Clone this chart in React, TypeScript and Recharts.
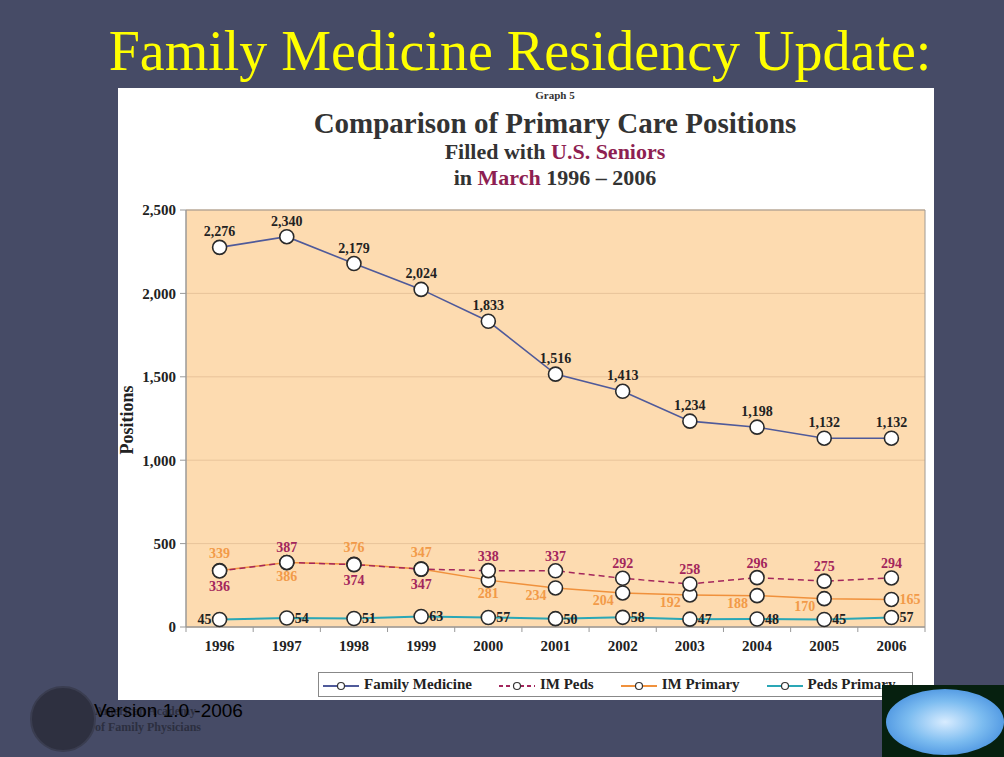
import React from 'react';
import { LineChart, Line, XAxis, YAxis, CartesianGrid, LabelList, ReferenceArea } from 'recharts';

const years = [1996, 1997, 1998, 1999, 2000, 2001, 2002, 2003, 2004, 2005, 2006];
const familyMedicine = [2276, 2340, 2179, 2024, 1833, 1516, 1413, 1234, 1198, 1132, 1132];
const imPeds = [336, 387, 374, 347, 338, 337, 292, 258, 296, 275, 294];
const imPrimary = [339, 386, 376, 347, 281, 234, 204, 192, 188, 170, 165];
const pedsPrimary = [45, 54, 51, 63, 57, 50, 58, 47, 48, 45, 57];
const yTicks = [0, 500, 1000, 1500, 2000, 2500];
const seriesNames = ['Family Medicine', 'IM Peds', 'IM Primary', 'Peds Primary'];

const C_FM = '#4f5a9a';
const C_IMPEDS = '#a3265c';
const C_IMPRIM = '#f0913c';
const C_PEDS = '#2aa7b6';
const LABEL_ORANGE = '#f29a48';

const data = years.map((y, i) => ({
  year: y,
  fm: familyMedicine[i],
  imPeds: imPeds[i],
  imPrimary: imPrimary[i],
  peds: pedsPrimary[i],
}));

const xTicks: number[] = [];
years.forEach((y) => {
  xTicks.push(y - 0.5);
  xTicks.push(y);
});
xTicks.push(years[years.length - 1] + 0.5);

const SERIF = '"Liberation Serif", "Times New Roman", serif';
const fmt = (v: number) => v.toLocaleString('en-US');

const dotStyle = { r: 7, fill: '#ffffff', stroke: '#2a2a2a', strokeWidth: 1.6, strokeDasharray: 'none' };

const lblBase = { fontFamily: SERIF, fontWeight: 700, fontSize: 14 } as const;

const FmLabel = (p: any) => (
  <text x={p.x} y={p.y - 11} textAnchor="middle" fill="#222" style={lblBase}>
    {fmt(p.value)}
  </text>
);

const ImPedsLabel = (p: any) => {
  const i = p.index;
  const above = imPeds[i] > imPrimary[i];
  return (
    <text x={p.x} y={above ? p.y - 10 : p.y + 20} textAnchor="middle" fill={C_IMPEDS} style={lblBase}>
      {p.value}
    </text>
  );
};

const ImPrimLabel = (p: any) => {
  const i = p.index;
  const above = imPrimary[i] >= imPeds[i];
  if (above) {
    return (
      <text x={p.x} y={p.y - 12} textAnchor="middle" fill={LABEL_ORANGE} style={lblBase}>
        {p.value}
      </text>
    );
  }
  if (i === years.length - 1) {
    return (
      <text x={p.x + 8} y={p.y + 5} textAnchor="start" fill={LABEL_ORANGE} style={lblBase}>
        {p.value}
      </text>
    );
  }
  if (i >= 5) {
    return (
      <text x={p.x - 9} y={p.y + 12} textAnchor="end" fill={LABEL_ORANGE} style={lblBase}>
        {p.value}
      </text>
    );
  }
  return (
    <text x={p.x} y={p.y + 18} textAnchor="middle" fill={LABEL_ORANGE} style={lblBase}>
      {p.value}
    </text>
  );
};

const PedsLabel = (p: any) => {
  const left = p.index === 0;
  return (
    <text x={left ? p.x - 8 : p.x + 8} y={p.y + 5} textAnchor={left ? 'end' : 'start'} fill="#222" style={lblBase}>
      {p.value}
    </text>
  );
};

const XTick = (p: any) => {
  const v = p.payload.value;
  if (Number.isInteger(v)) {
    return (
      <text x={p.x} y={p.y + 24} textAnchor="middle" fill="#222" style={{ fontFamily: SERIF, fontWeight: 700, fontSize: 15 }}>
        {v}
      </text>
    );
  }
  return <line x1={p.x} x2={p.x} y1={p.y} y2={p.y + 5} stroke="#999" strokeWidth={1} />;
};

const LegendIcon = ({ color, dashed }: { color: string; dashed?: boolean }) => (
  <svg width={36} height={12} style={{ verticalAlign: 'middle', marginRight: 5 }}>
    <line x1={0} x2={36} y1={6} y2={6} stroke={color} strokeWidth={2} strokeDasharray={dashed ? '4 3' : undefined} />
    <circle cx={18} cy={6} r={3.5} fill="#fff" stroke="#333" strokeWidth={1.2} />
  </svg>
);

export default function App() {
  const legendColors = [C_FM, C_IMPEDS, C_IMPRIM, C_PEDS];
  return (
    <div style={{ position: 'absolute', left: 0, top: 0, width: 1004, height: 757, background: '#464b66', overflow: 'hidden' }}>
      <div
        style={{
          position: 'absolute', left: 0, top: 19, width: 1040, textAlign: 'center',
          fontFamily: SERIF, fontSize: 56, color: '#ffff00', lineHeight: '64px', whiteSpace: 'nowrap',
        }}
      >
        Family Medicine Residency Update:
      </div>

      <div style={{ position: 'absolute', left: 118, top: 88, width: 816, height: 612, background: '#ffffff' }}>
        <div style={{ position: 'absolute', left: 0, top: 1, width: 874, textAlign: 'center', fontFamily: SERIF, fontWeight: 700, fontSize: 11, color: '#333' }}>
          Graph 5
        </div>
        <div style={{ position: 'absolute', left: 0, top: 18, width: 874, textAlign: 'center', fontFamily: SERIF, fontWeight: 700, fontSize: 29, color: '#333', lineHeight: '34px' }}>
          Comparison of Primary Care Positions
        </div>
        <div style={{ position: 'absolute', left: 0, top: 51, width: 874, textAlign: 'center', fontFamily: SERIF, fontWeight: 700, fontSize: 22, color: '#333', lineHeight: '26px' }}>
          Filled with <span style={{ color: '#8e1f52' }}>U.S. Seniors</span>
        </div>
        <div style={{ position: 'absolute', left: 0, top: 77, width: 874, textAlign: 'center', fontFamily: SERIF, fontWeight: 700, fontSize: 22, color: '#333', lineHeight: '26px' }}>
          in <span style={{ color: '#8e1f52' }}>March</span> 1996 – 2006
        </div>
        <div
          style={{
            position: 'absolute', left: 9, top: 332, transform: 'translate(-50%, -50%) rotate(-90deg)',
            fontFamily: SERIF, fontWeight: 700, fontSize: 18, color: '#222', whiteSpace: 'nowrap',
          }}
        >
          Positions
        </div>

        <div style={{ position: 'absolute', left: 0, top: 0 }}>
          <LineChart width={816} height={612} data={data} margin={{ top: 122, right: 9, left: 8, bottom: 43 }}>
            <CartesianGrid horizontal vertical={false} stroke="#e8c49a" fill="#fddbb0" />
            <XAxis
              dataKey="year"
              type="number"
              domain={[1995.5, 2006.5]}
              ticks={xTicks}
              interval={0}
              tickSize={0}
              tickMargin={0}
              tickLine={false}
              tick={<XTick />}
              axisLine={{ stroke: '#999', strokeWidth: 1 }}
              height={30}
            />
            <YAxis
              domain={[0, 2500]}
              ticks={yTicks}
              tickFormatter={fmt}
              width={60}
              tickSize={6}
              tickMargin={4}
              tickLine={{ stroke: '#999' }}
              axisLine={{ stroke: '#999', strokeWidth: 1 }}
              tick={{ fill: '#222', fontFamily: SERIF, fontWeight: 700, fontSize: 15 }}
            />
            <ReferenceArea x1={1995.5} x2={2006.5} y1={0} y2={2500} fill="none" stroke="#a09a94" strokeWidth={1} ifOverflow="visible" />
            <Line dataKey="imPrimary" stroke={C_IMPRIM} strokeWidth={1.5} dot={dotStyle} isAnimationActive={false}>
              <LabelList dataKey="imPrimary" content={<ImPrimLabel />} />
            </Line>
            <Line dataKey="imPeds" stroke={C_IMPEDS} strokeWidth={1.5} strokeDasharray="6 4" dot={dotStyle} isAnimationActive={false}>
              <LabelList dataKey="imPeds" content={<ImPedsLabel />} />
            </Line>
            <Line dataKey="peds" stroke={C_PEDS} strokeWidth={2} dot={dotStyle} isAnimationActive={false}>
              <LabelList dataKey="peds" content={<PedsLabel />} />
            </Line>
            <Line dataKey="fm" stroke={C_FM} strokeWidth={1.6} dot={dotStyle} isAnimationActive={false}>
              <LabelList dataKey="fm" content={<FmLabel />} />
            </Line>
          </LineChart>
        </div>

        <div
          style={{
            position: 'absolute', left: 200, top: 584, width: 595, height: 25, boxSizing: 'border-box',
            border: '1px solid #888', display: 'flex', alignItems: 'center', justifyContent: 'flex-start',
            gap: 27, paddingLeft: 4,
            fontFamily: SERIF, fontWeight: 700, fontSize: 15, color: '#222', background: '#fff',
          }}
        >
          {seriesNames.map((n, i) => (
            <span key={n} style={{ whiteSpace: 'nowrap' }}>
              <LegendIcon color={legendColors[i]} dashed={i === 1} />
              {n}
            </span>
          ))}
        </div>
      </div>

      <div style={{ position: 'absolute', left: 30, top: 686, width: 62, height: 62, borderRadius: '50%', background: '#2e3040', border: '2px solid #3a3d50' }} />
      <div style={{ position: 'absolute', left: 95, top: 703, fontFamily: SERIF, fontWeight: 700, fontSize: 12, color: '#2c2f40', lineHeight: '16px' }}>
        American Academy<br />of Family Physicians
      </div>
      <div style={{ position: 'absolute', left: 94, top: 700, fontFamily: '"Liberation Sans", Arial, sans-serif', fontSize: 19, color: '#000' }}>
        Version 1.0 -2006
      </div>

      <div style={{ position: 'absolute', left: 882, top: 685, width: 122, height: 72, background: '#06200f' }}>
        <div
          style={{
            position: 'absolute', left: 4, top: 4, width: 118, height: 66, borderRadius: '50%',
            background: 'radial-gradient(ellipse at center, #d8ecff 0%, #7cbcf0 45%, #2a78d6 100%)',
          }}
        />
      </div>
    </div>
  );
}
